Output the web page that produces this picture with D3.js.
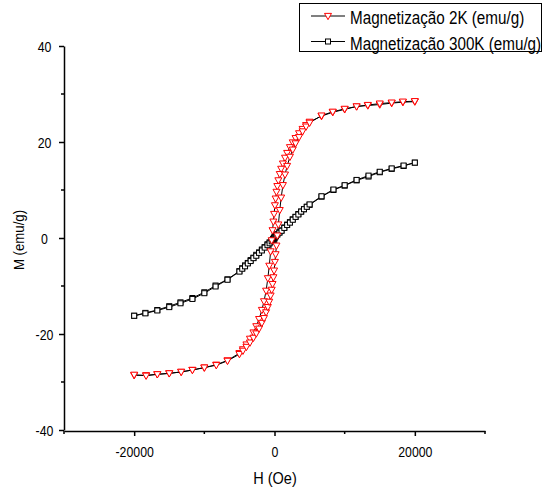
<!DOCTYPE html>
<html>
<head>
<meta charset="utf-8">
<script src="https://cdn.jsdelivr.net/npm/d3@7"></script>
<style>
body { margin: 0; background: #fff; }
svg text { font-family: "Liberation Sans", Arial, sans-serif; fill: #000; }
</style>
</head>
<body>
<svg id="chart" width="548" height="493"></svg>
<script>

// field grid for the 2K loop (descending order), Oe
const h2K = [20000, 18300, 16700, 15000, 13300, 11700, 10000, 8300, 6700, 5000,
    4500, 4000, 3500, 3000, 2600, 2200, 1800, 1500, 1200, 950, 750, 550, 400, 280, 160, 60,
    -60, -160, -280, -400, -550, -750, -950, -1200, -1500, -1800, -2200, -2600, -3000, -3500,
    -4000, -4500, -5000, -6700, -8300, -10000, -11700, -13300, -15000, -16700, -18300, -20000];
// descending branch
const m2KDown = [28.4, 28.3, 28.1, 27.8, 27.6, 27.4, 26.8, 26.2, 25.4, 24.2,
    23.5, 22.7, 21.8, 20.8, 19.9, 18.9, 17.7, 16.7, 15.5, 14.4, 13.3, 12.0, 10.8, 9.6, 8.2, 6.8,
    5.0, 3.4, 1.6, -0.5, -2.8, -5.8, -8.4, -11.0, -13.2, -15.0, -16.9, -18.4, -19.7, -21.0,
    -22.2, -23.2, -24.0, -25.5, -26.4, -27.0, -27.5, -27.9, -28.2, -28.4, -28.6, -28.6];
// ascending branch (same grid)
const m2KUp = [28.5, 28.4, 28.2, 28.0, 27.7, 27.4, 26.9, 26.3, 25.5, 24.0,
    23.2, 22.2, 21.0, 19.7, 18.4, 16.9, 15.0, 13.2, 11.0, 8.4, 5.8, 2.8, 0.5, -1.6, -3.4, -5.0,
    -6.8, -8.2, -9.6, -10.8, -12.0, -13.3, -14.4, -15.5, -16.7, -17.7, -18.9, -19.9, -20.8, -21.8,
    -22.7, -23.5, -24.2, -25.6, -26.5, -27.0, -27.5, -27.9, -28.2, -28.4, -28.7, -28.5];

// field grid for 300K
const h300K = [20000, 18400, 16700, 15000, 13400, 11700, 10000, 8400, 6700, 5000,
    4600, 4200, 3800, 3400, 3000, 2600, 2200, 1800, 1400, 1000, 700, 400, 200, 100, 0,
    -100, -200, -400, -700, -1000, -1400, -1800, -2200, -2600, -3000, -3400, -3800, -4200, -4600,
    -5000, -6700, -8400, -10000, -11700, -13400, -15000, -16700, -18400, -20000];
const m300KDown = [15.7, 15.0, 14.4, 13.7, 12.8, 12.0, 10.9, 10.0, 8.6, 6.9,
    6.5, 6.0, 5.5, 5.0, 4.4, 3.9, 3.3, 2.8, 2.2, 1.6, 1.2, 0.8, 0.5, 0.3, 0.2,
    0.0, -0.2, -0.5, -0.9, -1.3, -1.9, -2.4, -3.0, -3.5, -4.1, -4.6, -5.2, -5.7, -6.3,
    -6.9, -8.6, -9.9, -11.3, -12.5, -13.4, -14.2, -15.0, -15.6, -16.2];
const m300KUp = [15.7, 15.1, 14.5, 13.8, 13.0, 12.1, 11.0, 10.1, 8.7, 7.0,
    6.5, 6.0, 5.5, 4.9, 4.4, 3.8, 3.2, 2.7, 2.1, 1.5, 1.1, 0.7, 0.4, 0.2, 0.0,
    -0.2, -0.4, -0.7, -1.1, -1.5, -2.0, -2.6, -3.1, -3.7, -4.2, -4.8, -5.3, -5.9, -6.4,
    -7.0, -8.7, -10.1, -11.5, -12.7, -13.6, -14.4, -15.1, -15.7, -16.2];

const xMajor = [-20000, 0, 20000],
      xMinor = [-30000, -10000, 10000, 30000],
      yMajor = [-40, -20, 0, 20, 40],
      yMinor = [-30, -10, 10, 30];

const legendLabels = ["Magnetização 2K (emu/g)", "Magnetização 300K (emu/g)"];

// the original text is a narrow arial, squeeze it a bit
const squeeze = 0.88;


let svg = d3.select('#chart');

let xScale = d3.scaleLinear()
                .domain([-30000, 30000])
                .range([64, 485]);

let yScale = d3.scaleLinear()
                .domain([-40, 40])
                .range([430, 46]);

// loop = down branch then back up
const loop = function(h, down, up){
    let pts = h.map((d, i) => [d, down[i]]);
    let back = h.map((d, i) => [d, up[i]]).reverse();
    return pts.concat(back);
};

let pts2K = loop(h2K, m2KDown, m2KUp),
    pts300K = loop(h300K, m300KDown, m300KUp);

let line = d3.line()
    .x(d => xScale(d[0]))
    .y(d => yScale(d[1]));

const triangle = function(cx, cy){
    let r = 3.5;
    return `M${cx - r},${cy - r * 0.75}L${cx + r},${cy - r * 0.75}L${cx},${cy + r * 1.05}Z`;
};

let plot = svg.append("g");

plot.append("path")
    .datum(pts300K)
    .attr("d", line)
    .attr("fill", "none")
    .attr("stroke", "#000")
    .attr("stroke-width", 1);

plot.append("path")
    .datum(pts2K)
    .attr("d", line)
    .attr("fill", "none")
    .attr("stroke", "#000")
    .attr("stroke-width", 1);

plot.selectAll("rect.m300")
    .data(pts300K)
    .enter()
    .append("rect")
    .attr("class", "m300")
    .attr("x", d => xScale(d[0]) - 2.5)
    .attr("y", d => yScale(d[1]) - 2.5)
    .attr("width", 5)
    .attr("height", 5)
    .attr("fill", "#fff")
    .attr("stroke", "#000")
    .attr("stroke-width", 1);

plot.selectAll("path.m2k")
    .data(pts2K)
    .enter()
    .append("path")
    .attr("class", "m2k")
    .attr("d", d => triangle(xScale(d[0]), yScale(d[1])))
    .attr("fill", "#fff")
    .attr("stroke", "#f00")
    .attr("stroke-width", 1);


// axes
let xAxis = d3.axisBottom(xScale)
                .tickValues(xMajor)
                .tickSize(5)
                .tickSizeOuter(0);

let gx = svg.append("g")
    .attr("class", "axis x-axis")
    .attr("transform", "translate(0,431)")
    .call(xAxis);

gx.select(".domain").attr("stroke-width", 1.5);
gx.selectAll(".tick line").attr("stroke-width", 1.5);
gx.selectAll(".tick text")
    .attr("y", 0)
    .attr("dy", 0)
    .attr("transform", `translate(0,25.5) scale(${squeeze},1)`)
    .style("font-size", "14px")
    .text(d => String(d));

gx.selectAll("line.minor")
    .data(xMinor)
    .enter()
    .append("line")
    .attr("class", "minor")
    .attr("x1", d => xScale(d)).attr("x2", d => xScale(d))
    .attr("y1", 0).attr("y2", 3)
    .attr("stroke", "#000")
    .attr("stroke-width", 1.5);

let yAxis = d3.axisLeft(yScale)
                .tickValues(yMajor)
                .tickSize(5)
                .tickSizeOuter(0);

let gy = svg.append("g")
    .attr("class", "axis y-axis")
    .attr("transform", "translate(64,0)")
    .call(yAxis);

gy.select(".domain").attr("stroke-width", 1.5);
gy.selectAll(".tick line").attr("stroke-width", 1.5);
gy.selectAll(".tick text")
    .attr("x", 0)
    .attr("dy", 0)
    .attr("transform", `translate(-19.5,5) scale(${squeeze},1)`)
    .attr("text-anchor", "middle")
    .style("font-size", "14px")
    .text(d => String(d));

gy.selectAll("line.minor")
    .data(yMinor)
    .enter()
    .append("line")
    .attr("class", "minor")
    .attr("y1", d => yScale(d)).attr("y2", d => yScale(d))
    .attr("x1", 0).attr("x2", -3)
    .attr("stroke", "#000")
    .attr("stroke-width", 1.5);

svg.append("text")
    .attr("transform", `translate(275,484) scale(${squeeze},1)`)
    .attr("text-anchor", "middle")
    .style("font-size", "16.5px")
    .text("H (Oe)");

svg.append("text")
    .attr("transform", `translate(24,240) rotate(-90) scale(${squeeze},1)`)
    .attr("text-anchor", "middle")
    .style("font-size", "15px")
    .text("M (emu/g)");


// legend
let legend = svg.append("g");

legend.append("rect")
    .attr("x", 299.5)
    .attr("y", 3.5)
    .attr("width", 242)
    .attr("height", 48)
    .attr("fill", "#fff")
    .attr("stroke", "#000")
    .attr("stroke-width", 1);

legendLabels.forEach(function(lbl, i){
    let ly = 16 + i * 25.5;
    legend.append("line")
        .attr("x1", 311).attr("x2", 345)
        .attr("y1", ly).attr("y2", ly)
        .attr("stroke", "#000")
        .attr("stroke-width", 1);
    if(i == 0){
        legend.append("path")
            .attr("d", triangle(328, ly))
            .attr("fill", "#fff")
            .attr("stroke", "#f00");
    }else{
        legend.append("rect")
            .attr("x", 325.5).attr("y", ly - 2.5)
            .attr("width", 5).attr("height", 5)
            .attr("fill", "#fff")
            .attr("stroke", "#000");
    }
    legend.append("text")
        .attr("transform", `translate(350,${ly + 8}) scale(0.87,1)`)
        .style("font-size", "17.5px")
        .text(lbl);
});

</script>
</body>
</html>
